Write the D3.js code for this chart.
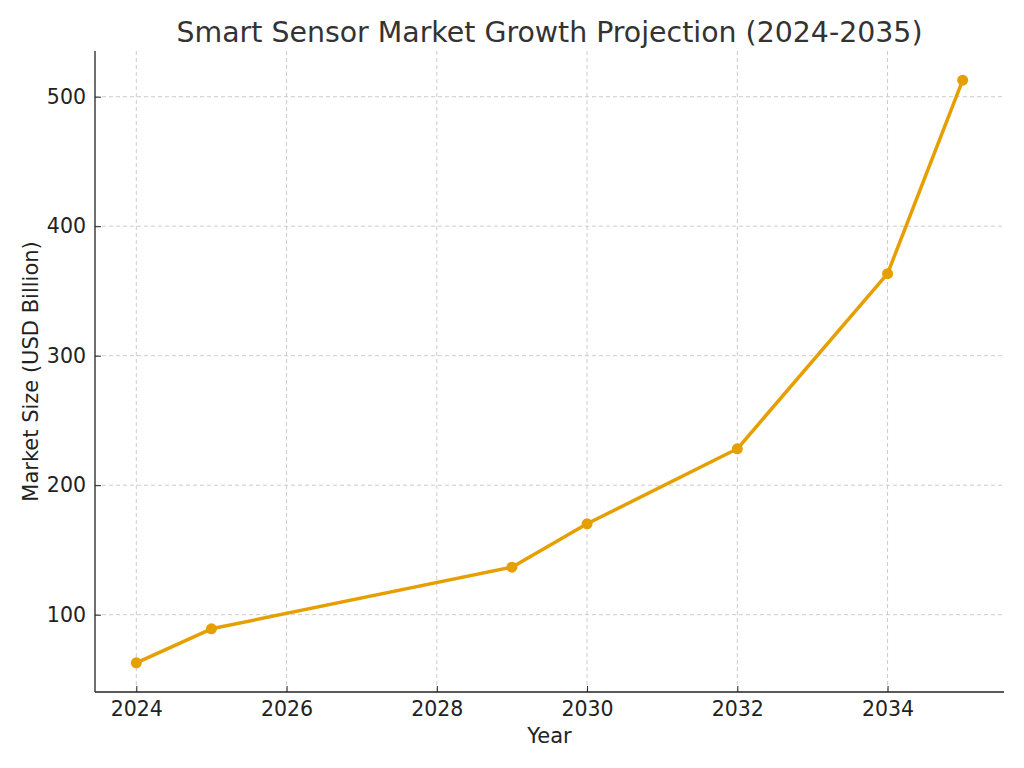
<!DOCTYPE html>
<html>
<head>
<meta charset="utf-8">
<script src="https://cdn.jsdelivr.net/npm/d3@7"></script>
<style>
  html, body { margin: 0; padding: 0; background: #fff; }
  svg { display: block; font-family: "DejaVu Sans", sans-serif; }
</style>
</head>
<body>
<svg id="chart" width="1024" height="768"></svg>
<script>
const years = [2024, 2025, 2029, 2030, 2032, 2034, 2035];
const marketSize = [62.8, 89.1, 136.7, 170.2, 228.1, 363.3, 512.8];
const xTicks = [2024, 2026, 2028, 2030, 2032, 2034];
const yTicks = [100, 200, 300, 400, 500];
const titleText = "Smart Sensor Market Growth Projection (2024-2035)";
const xLabel = "Year";
const yLabel = "Market Size (USD Billion)";

const W = 1024, H = 768;
const m = { left: 95, right: 20, top: 51, bottom: 76 };
const svg = d3.select("#chart");

const xMin = d3.min(years), xMax = d3.max(years);
const xPad = (xMax - xMin) * 0.05;
const yMin = d3.min(marketSize), yMax = d3.max(marketSize);
const yPad = (yMax - yMin) * 0.05;

const x = d3.scaleLinear().domain([xMin - xPad, xMax + xPad]).range([m.left, W - m.right]);
const y = d3.scaleLinear().domain([yMin - yPad, yMax + yPad]).range([H - m.bottom, m.top]);

// grid
const grid = svg.append("g");
grid.selectAll("line.vx").data(xTicks).join("line")
  .attr("x1", d => x(d)).attr("x2", d => x(d))
  .attr("y1", m.top).attr("y2", H - m.bottom)
  .attr("stroke", "#cccccc").attr("stroke-width", 1).attr("stroke-dasharray", "4,3");
grid.selectAll("line.hy").data(yTicks).join("line")
  .attr("x1", m.left).attr("x2", W - m.right)
  .attr("y1", d => y(d)).attr("y2", d => y(d))
  .attr("stroke", "#cccccc").attr("stroke-width", 1).attr("stroke-dasharray", "4,3");

// axes (ticks pointing inward)
const xAxis = svg.append("g").attr("transform", `translate(0,${H - m.bottom})`)
  .call(d3.axisBottom(x).tickValues(xTicks).tickFormat(d3.format("d")).tickSizeOuter(0).tickSize(-6).tickPadding(9));
const yAxis = svg.append("g").attr("transform", `translate(${m.left},0)`)
  .call(d3.axisLeft(y).tickValues(yTicks).tickFormat(d3.format("d")).tickSizeOuter(0).tickSize(-6).tickPadding(9));
[xAxis, yAxis].forEach(a => {
  a.select(".domain").attr("stroke", "#222").attr("stroke-width", 1.3);
  a.selectAll(".tick line").attr("stroke", "#222").attr("stroke-width", 1);
  a.selectAll(".tick text").attr("fill", "#222").style("font-size", "20.5px").style("font-family", "DejaVu Sans");
});
xAxis.select(".domain").attr("d", `M${m.left},0H${W - m.right}`);
yAxis.select(".domain").attr("d", `M0,${m.top}V${H - m.bottom}`);

// line
const line = d3.line().x((d, i) => x(years[i])).y(d => y(d));
svg.append("path").datum(marketSize)
  .attr("d", line).attr("fill", "none")
  .attr("stroke", "#E69F00").attr("stroke-width", 3.5)
  .attr("stroke-linejoin", "round").attr("stroke-linecap", "round");
svg.selectAll("circle.pt").data(marketSize).join("circle")
  .attr("class", "pt")
  .attr("cx", (d, i) => x(years[i])).attr("cy", d => y(d))
  .attr("r", 5.5).attr("fill", "#E69F00");

// title & labels
svg.append("text").attr("x", (m.left + W - m.right) / 2).attr("y", 42)
  .attr("text-anchor", "middle").attr("fill", "#333").style("font-size", "28.4px")
  .text(titleText);
svg.append("text").attr("x", (m.left + W - m.right) / 2).attr("y", 743)
  .attr("text-anchor", "middle").attr("fill", "#222").style("font-size", "21px")
  .text(xLabel);
svg.append("text").attr("transform", `translate(38,${(m.top + H - m.bottom) / 2}) rotate(-90)`)
  .attr("text-anchor", "middle").attr("fill", "#222").style("font-size", "21px")
  .text(yLabel);
</script>
</body>
</html>
